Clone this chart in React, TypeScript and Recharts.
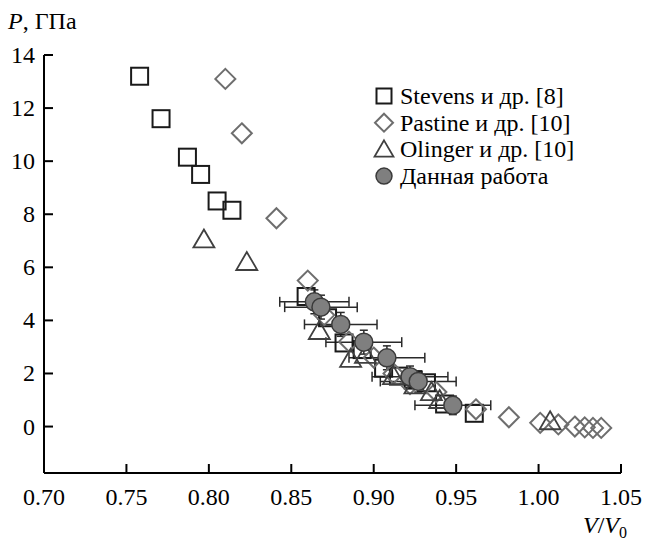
import React from "react";
import { ScatterChart, Scatter, XAxis, YAxis, ErrorBar } from "recharts";

// Stevens et al. [8]
const stevensX = [0.758, 0.771, 0.787, 0.795, 0.805, 0.814, 0.859, 0.872, 0.882, 0.893, 0.906, 0.915, 0.924, 0.932, 0.943, 0.961];
const stevensY = [13.2, 11.6, 10.15, 9.5, 8.5, 8.15, 4.9, 4.1, 3.15, 2.9, 2.2, 1.9, 1.75, 1.65, 0.85, 0.5];

// Pastine et al. [10]
const pastineX = [0.810, 0.820, 0.841, 0.860, 0.870, 0.885, 0.900, 0.912, 0.922, 0.938, 0.962, 0.982, 1.001, 1.012, 1.022, 1.028, 1.033, 1.038];
const pastineY = [13.1, 11.05, 7.85, 5.5, 4.2, 3.2, 2.6, 2.0, 1.6, 1.3, 0.65, 0.35, 0.14, 0.08, 0.0, -0.03, -0.05, -0.05];

// Olinger et al. [10]
const olingerX = [0.797, 0.823, 0.867, 0.886, 0.895, 0.912, 0.925, 0.935, 0.940, 1.007];
const olingerY = [7.05, 6.2, 3.6, 2.55, 2.7, 1.9, 1.55, 1.3, 1.0, 0.2];

// Данная работа
const workX = [0.864, 0.868, 0.880, 0.894, 0.908, 0.922, 0.927, 0.948];
const workY = [4.7, 4.5, 3.85, 3.18, 2.59, 1.88, 1.7, 0.8];
const workXErr = [0.021, 0.022, 0.022, 0.023, 0.023, 0.023, 0.023, 0.023];
const workYErr = [0.45, 0.45, 0.45, 0.45, 0.45, 0.4, 0.4, 0.35];

const xTicks = [0.7, 0.75, 0.8, 0.85, 0.9, 0.95, 1.0, 1.05];
const yTicks = [0, 2, 4, 6, 8, 10, 12, 14];

const legendNames = ["Stevens и др. [8]", "Pastine и др. [10]", "Olinger и др. [10]", "Данная работа"];

const stevens = stevensX.map((x, i) => ({ x, y: stevensY[i] }));
const pastine = pastineX.map((x, i) => ({ x, y: pastineY[i] }));
const olinger = olingerX.map((x, i) => ({ x, y: olingerY[i] }));
const work = workX.map((x, i) => ({ x, y: workY[i], ex: workXErr[i], ey: workYErr[i] }));

const FONT =
  "'Liberation Serif', 'DejaVu Serif', 'Noto Serif', Tinos, FreeSerif, 'Times New Roman', Times, serif";
const FS = 24;
const txt = { fontFamily: FONT, fontSize: FS };

const squareShape = (cx: number, cy: number, s = 17) => (
  <rect x={cx - s / 2} y={cy - s / 2} width={s} height={s} fill="none" stroke="#1a1a1a" strokeWidth={2} />
);
const diamondShape = (cx: number, cy: number, r = 10) => (
  <polygon
    points={`${cx},${cy - r} ${cx + r},${cy} ${cx},${cy + r} ${cx - r},${cy}`}
    fill="none"
    stroke="#6e6e6e"
    strokeWidth={2}
  />
);
const triangleShape = (cx: number, cy: number, r = 10) => (
  <polygon
    points={`${cx},${cy - r} ${cx + r * 1.05},${cy + r * 0.8} ${cx - r * 1.05},${cy + r * 0.8}`}
    fill="none"
    stroke="#404040"
    strokeWidth={1.8}
  />
);
const dotShape = (cx: number, cy: number, r = 9) => (
  <circle cx={cx} cy={cy} r={r} fill="#7f7f7f" stroke="#3a3a3a" strokeWidth={1.5} />
);

const XTick = (props: any) => {
  const { x, y, payload } = props;
  return (
    <g>
      <line x1={x} y1={y} x2={x} y2={y - 9} stroke="#000" strokeWidth={2} />
      <text x={x} y={y + 32} textAnchor="middle" style={txt} fill="#000">
        {Number(payload.value).toFixed(2)}
      </text>
    </g>
  );
};

const YTick = (props: any) => {
  const { x, y, payload } = props;
  return (
    <g>
      <line x1={x} y1={y} x2={x + 9} y2={y} stroke="#000" strokeWidth={2} />
      <text x={x - 9} y={y + 8} textAnchor="end" style={txt} fill="#000">
        {payload.value}
      </text>
    </g>
  );
};

const legendIcons = [
  (cx: number, cy: number) => squareShape(cx, cy, 15),
  (cx: number, cy: number) => diamondShape(cx, cy, 9),
  (cx: number, cy: number) => triangleShape(cx, cy, 9),
  (cx: number, cy: number) => dotShape(cx, cy, 8),
];

export default function App() {
  return (
    <div style={{ position: "absolute", left: 0, top: 0, width: 649, height: 546, fontFamily: FONT }}>
      <ScatterChart width={649} height={546} margin={{ top: 55, right: 28, bottom: 33, left: 4 }}>
        <XAxis
          type="number"
          dataKey="x"
          domain={[0.7, 1.05]}
          ticks={xTicks}
          allowDataOverflow
          height={40}
          tickSize={0}
          tickMargin={0}
          tickLine={false}
          axisLine={{ stroke: "#000", strokeWidth: 2 }}
          tick={<XTick />}
        />
        <YAxis
          type="number"
          dataKey="y"
          domain={[-1.75, 14]}
          ticks={yTicks}
          allowDataOverflow
          width={40}
          tickSize={0}
          tickMargin={0}
          tickLine={false}
          axisLine={{ stroke: "#000", strokeWidth: 2 }}
          tick={<YTick />}
        />
        <Scatter data={stevens} isAnimationActive={false} shape={(p: any) => squareShape(p.cx, p.cy)} />
        <Scatter data={pastine} isAnimationActive={false} shape={(p: any) => diamondShape(p.cx, p.cy)} />
        <Scatter data={olinger} isAnimationActive={false} shape={(p: any) => triangleShape(p.cx, p.cy)} />
        <Scatter data={work} isAnimationActive={false} shape={(p: any) => dotShape(p.cx, p.cy)}>
          <ErrorBar dataKey="ex" direction="x" width={5} stroke="#2a2a2a" strokeWidth={1.5} />
          <ErrorBar dataKey="ey" direction="y" width={4} stroke="#2a2a2a" strokeWidth={1.5} />
        </Scatter>
      </ScatterChart>
      <svg
        width={649}
        height={546}
        style={{ position: "absolute", left: 0, top: 0, pointerEvents: "none" }}
      >
        <text x={8} y={29} style={txt} fill="#000">
          <tspan fontStyle="italic">P</tspan>, ГПа
        </text>
        <text x={583} y={533} style={txt} fill="#000">
          <tspan fontStyle="italic">V</tspan>/<tspan fontStyle="italic">V</tspan>
          <tspan fontSize={16} dy={5}>0</tspan>
        </text>
        {legendNames.map((name, i) => {
          const cy = 96 + i * 26.7;
          return (
            <g key={name}>
              {legendIcons[i](384, cy)}
              <text x={400} y={cy + 8} style={txt} fill="#000">
                {name}
              </text>
            </g>
          );
        })}
      </svg>
    </div>
  );
}
